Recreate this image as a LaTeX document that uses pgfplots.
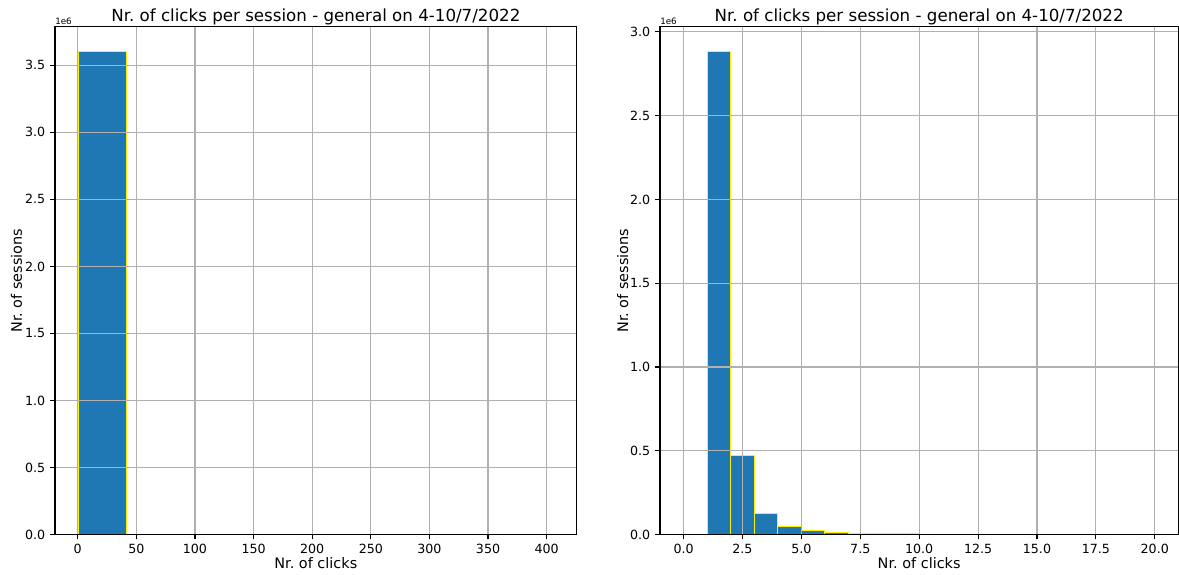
\documentclass[border=0pt]{standalone}
\usepackage{pgfplots}
\pgfplotsset{compat=1.18}
\usepackage{fontspec}
\setmainfont{DejaVu Sans}

\definecolor{barblue}{RGB}{31,119,180}
\definecolor{gridgray}{RGB}{176,176,176}

% Click histograms: bin edges (left column), session counts in millions (right column)
\pgfplotstableread{
edge    count
1       3.601
41.4    0.0030
81.8    0.0004
122.2   0.0002
162.6   0.0001
203.0   0.0001
243.4   0.00005
283.8   0.00005
324.2   0.00003
364.6   0.00002
405.0   0.00002
}\allclicks

\pgfplotstableread{
edge    count
0       0
1       2.885
2       0.470
3       0.1255
4       0.050
5       0.026
6       0.0143
7       0.008
8       0.005
9       0.003
10      0.002
11      0.0015
12      0.001
13      0.0008
14      0.0006
15      0.0005
16      0.0004
17      0.0003
18      0.0002
19      0.0002
20      0.0002
}\fewclicks

\pgfplotsset{
  histstyle/.style={
    scale only axis,
    anchor=south west,
    height=365.6pt,
    ymin=0,
    clip=false,
    axis on top,
    grid=major,
    major grid style={color=gridgray, line width=0.8pt},
    axis line style={black, line width=0.8pt},
    tick align=outside,
    xtick pos=bottom,
    ytick pos=left,
    major tick length=3.5pt,
    tick style={black, line width=0.8pt},
    scaled ticks=false,
    /pgf/number format/assume math mode=true,
    tick label style={font=\fontsize{9.1}{11}\selectfont},
    ytick={0,0.5,...,3.5},
    yticklabel style={/pgf/number format/fixed, /pgf/number format/fixed zerofill, /pgf/number format/precision=1},
    title style={at={(axis description cs:0.5,1)}, anchor=base, yshift=-1.9pt, font=\fontsize{12}{14}\selectfont},
    label style={font=\fontsize{10.4}{12}\selectfont},
    xlabel style={at={(axis description cs:0.5,0)}, anchor=base, yshift=-24.8pt},
    title={Nr. of clicks per session - general on 4-10/7/2022},
    xlabel={Nr. of clicks},
    ylabel={Nr. of sessions},
  },
  histbars/.style={ybar interval, fill=barblue, draw=yellow, line width=0.75pt},
}

\begin{document}
\frenchspacing
\begin{tikzpicture}
\path[use as bounding box] (0pt,0pt) rectangle (848.88pt,413.28pt);

\begin{axis}[
  histstyle,
  at={(39.6pt,28.44pt)},
  width=375.6pt,
  xmin=-19.4, xmax=425.6,
  ymax=3.788,
  xtick={0,50,...,400},
  ylabel style={at={(axis description cs:-0.0634,0.5)}, anchor=base},
]
  \addplot[histbars] table[x=edge, y=count] {\allclicks};
  \node[anchor=base west, inner sep=0pt, font=\fontsize{6.3}{7}\selectfont] at (rel axis cs:0,1) [yshift=1.9pt] {1e6};
\end{axis}

\begin{axis}[
  histstyle,
  at={(475.2pt,28.44pt)},
  width=373.2pt,
  xmin=-1, xmax=21,
  ymax=3.031,
  xtick={0,2.5,...,20},
  xticklabel style={/pgf/number format/fixed, /pgf/number format/fixed zerofill, /pgf/number format/precision=1},
  ylabel style={at={(axis description cs:-0.0617,0.5)}, anchor=base},
]
  \addplot[histbars] table[x=edge, y=count] {\fewclicks};
  \node[anchor=base west, inner sep=0pt, font=\fontsize{6.3}{7}\selectfont] at (rel axis cs:0,1) [yshift=1.9pt] {1e6};
\end{axis}
\end{tikzpicture}
\end{document}
